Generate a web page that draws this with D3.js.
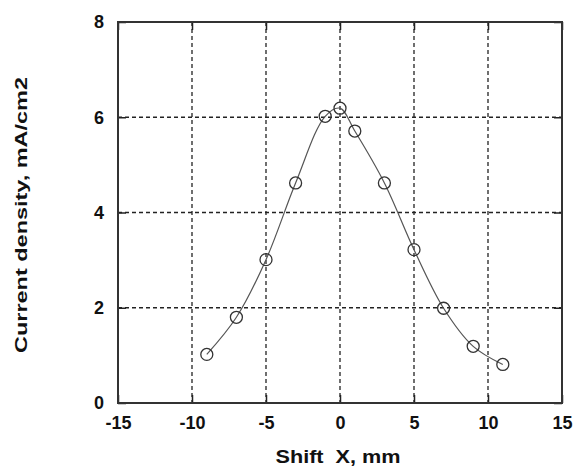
<!DOCTYPE html>
<html>
<head>
<meta charset="utf-8">
<script src="https://cdn.jsdelivr.net/npm/d3@7"></script>
<style>
  body { margin: 0; background: #fff; }
  text { font-family: "Liberation Sans", Arial, sans-serif; font-weight: bold; fill: #111; }
</style>
</head>
<body>
<svg id="chart"></svg>
<script>
var width = 573;
var height = 472;

var margin = {
  top: 22,
  left: 118,
  right: 11,
  bottom: 69
};

var shiftX = [-9, -7, -5, -3, -1, 0, 1, 3, 5, 7, 9, 11];
var density = [1.02, 1.80, 3.01, 4.62, 6.02, 6.19, 5.71, 4.62, 3.22, 1.99, 1.19, 0.81];
var xTicks = [-15, -10, -5, 0, 5, 10, 15];
var yTicks = [0, 2, 4, 6, 8];

var svg = d3.select("#chart").attr("width", width).attr("height", height);

var xScale = d3.scaleLinear()
.domain([-15, 15])
.range([margin.left, width - margin.right]);

var yScale = d3.scaleLinear()
.domain([0, 8])
.range([height - margin.bottom, margin.top]);

var plotTop = margin.top, plotBottom = height - margin.bottom;
var plotLeft = margin.left, plotRight = width - margin.right;

// dashed grid
svg.append("g")
.selectAll("line")
.data(xTicks.slice(1, -1))
.enter()
.append("line")
.attr("x1", function(d) {return xScale(d);})
.attr("x2", function(d) {return xScale(d);})
.attr("y1", plotTop)
.attr("y2", plotBottom)
.attr("stroke", "#222")
.attr("stroke-width", 1.3)
.attr("stroke-dasharray", "4,3");

svg.append("g")
.selectAll("line")
.data(yTicks.slice(1, -1))
.enter()
.append("line")
.attr("x1", plotLeft)
.attr("x2", plotRight)
.attr("y1", function(d) {return yScale(d);})
.attr("y2", function(d) {return yScale(d);})
.attr("stroke", "#222")
.attr("stroke-width", 1.3)
.attr("stroke-dasharray", "4,3");

// axes with inner ticks (plain hyphen minus like the original)
var fmt = function(d) {return String(d);};

var xAxis = svg.append("g")
.attr("transform", `translate(0, ${plotBottom})`)
.call(d3.axisBottom(xScale).tickValues(xTicks).tickFormat(fmt).tickSizeInner(-8).tickSizeOuter(0).tickPadding(13));

var xAxisTop = svg.append("g")
.attr("transform", `translate(0, ${plotTop})`)
.call(d3.axisTop(xScale).tickValues(xTicks).tickSizeInner(-8).tickSizeOuter(0).tickFormat(""));

var yAxis = svg.append("g")
.attr("transform", `translate(${plotLeft},0)`)
.call(d3.axisLeft(yScale).tickValues(yTicks).tickFormat(fmt).tickSizeInner(-8).tickSizeOuter(0).tickPadding(14));

var yAxisRight = svg.append("g")
.attr("transform", `translate(${plotRight},0)`)
.call(d3.axisRight(yScale).tickValues(yTicks).tickSizeInner(-8).tickSizeOuter(0).tickFormat(""));

svg.selectAll(".domain").remove();
svg.selectAll(".tick line").attr("stroke", "#222").attr("stroke-width", 1.5);
svg.selectAll(".tick text").style("font-size", "18px").style("font-family", "Liberation Sans, Arial, sans-serif").style("font-weight", "bold").attr("fill", "#111");

// frame
svg.append("rect")
.attr("x", plotLeft)
.attr("y", plotTop)
.attr("width", plotRight - plotLeft)
.attr("height", plotBottom - plotTop)
.attr("fill", "none")
.attr("stroke", "#333")
.attr("stroke-width", 2);

// curve
var points = shiftX.map(function(x, i) {return [x, density[i]];});

var line = d3.line()
.x(function(d) {return xScale(d[0]);})
.y(function(d) {return yScale(d[1]);})
.curve(d3.curveCatmullRom.alpha(0.5));

svg.append("path")
.datum(points)
.attr("d", line)
.attr("fill", "none")
.attr("stroke", "#555")
.attr("stroke-width", 1.2);

svg.append("g")
.selectAll("circle")
.data(points)
.enter()
.append("circle")
.attr("cx", function(d) {return xScale(d[0]);})
.attr("cy", function(d) {return yScale(d[1]);})
.attr("r", 6)
.attr("fill", "none")
.attr("stroke", "#333")
.attr("stroke-width", 1.3);

// axis titles
svg.append("text")
.attr("x", 338)
.attr("y", 463)
.attr("text-anchor", "middle")
.attr("textLength", 125)
.attr("lengthAdjust", "spacingAndGlyphs")
.style("font-size", "18px")
.style("white-space", "pre")
.text("Shift  X, mm");

svg.append("text")
.attr("transform", "translate(27, 215) rotate(-90)")
.attr("text-anchor", "middle")
.attr("textLength", 276)
.attr("lengthAdjust", "spacingAndGlyphs")
.style("font-size", "17px")
.text("Current density, mA/cm2");
</script>
</body>
</html>
